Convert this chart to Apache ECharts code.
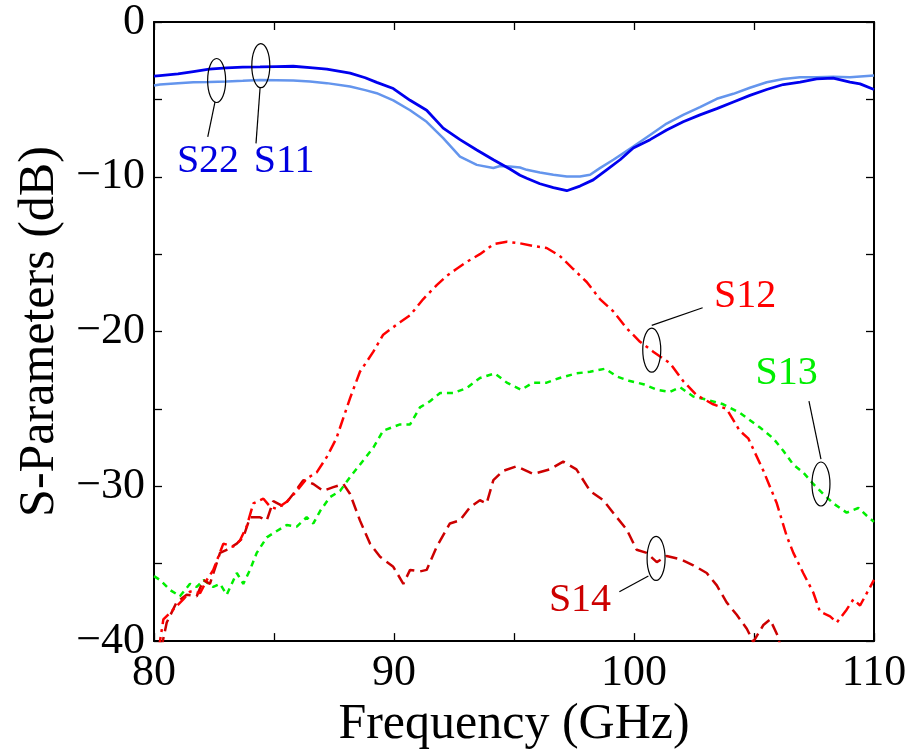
<!DOCTYPE html>
<html>
<head>
<meta charset="utf-8">
<script src="https://cdn.jsdelivr.net/npm/echarts@6/dist/echarts.min.js"></script>
<style>
  html, body { margin: 0; padding: 0; background: #fff; }
  #main { width: 916px; height: 755px; }
</style>
</head>
<body>
<div id="main"></div>
<script>
// frequency (GHz) / dB pairs
var s11 = [[80.0,-3.5],[80.25,-3.46],[81.0,-3.35],[81.64,-3.2],[82.3,-3.05],[83.03,-2.97],[83.7,-2.92],[84.42,-2.9],[85.1,-2.88],[85.8,-2.86],[86.5,-2.95],[87.2,-3.05],[88.17,-3.3],[88.8,-3.6],[89.28,-3.9],[89.97,-4.3],[90.67,-5.06],[91.36,-5.7],[92.05,-6.86],[92.75,-7.6],[93.45,-8.27],[94.14,-8.9],[94.83,-9.5],[95.25,-9.9],[95.53,-10.1],[96.08,-10.45],[96.64,-10.7],[97.2,-10.9],[97.75,-10.6],[98.3,-10.2],[98.86,-9.55],[99.42,-8.9],[99.97,-8.14],[100.67,-7.6],[101.36,-6.98],[102.05,-6.45],[102.75,-6.0],[103.45,-5.6],[104.14,-5.17],[104.83,-4.74],[105.53,-4.36],[106.22,-4.04],[106.92,-3.89],[107.61,-3.68],[108.3,-3.63],[109.0,-3.89],[109.42,-4.0],[110.0,-4.36]];
var s22 = [[80.0,-4.1],[80.25,-4.04],[81.0,-3.95],[81.64,-3.9],[82.3,-3.88],[83.03,-3.85],[83.7,-3.8],[84.42,-3.74],[85.1,-3.76],[85.8,-3.78],[86.5,-3.85],[87.2,-3.95],[88.17,-4.17],[88.8,-4.4],[89.28,-4.6],[89.97,-5.06],[90.67,-5.7],[91.36,-6.45],[92.05,-7.5],[92.75,-8.7],[93.45,-9.23],[94.14,-9.43],[94.42,-9.3],[94.83,-9.34],[95.25,-9.4],[95.53,-9.55],[96.08,-9.72],[96.64,-9.87],[97.2,-9.98],[97.75,-9.98],[98.17,-9.87],[98.58,-9.44],[99.14,-8.9],[99.97,-8.05],[100.67,-7.3],[101.36,-6.56],[102.05,-6.0],[102.75,-5.5],[103.45,-4.96],[104.14,-4.64],[104.83,-4.25],[105.53,-3.89],[106.22,-3.68],[106.92,-3.57],[107.61,-3.57],[108.3,-3.53],[109.0,-3.57],[110.0,-3.46]];
var s12 = [[80.2,-40.5],[80.39,-38.6],[80.8,-37.97],[81.22,-37.3],[81.5,-36.8],[81.92,-36.9],[82.2,-36.05],[82.47,-35.4],[82.89,-33.7],[83.3,-33.9],[83.58,-33.5],[83.86,-32.6],[84.14,-31.1],[84.56,-30.8],[84.83,-31.3],[85.1,-31.45],[85.53,-31.0],[85.95,-30.3],[86.36,-29.5],[86.78,-29.1],[87.2,-28.1],[87.6,-26.9],[88.17,-24.3],[88.58,-22.6],[89.14,-21.3],[89.55,-20.2],[90.25,-19.4],[90.67,-18.95],[91.22,-17.9],[91.78,-17.0],[92.2,-16.4],[92.6,-15.96],[93.03,-15.5],[93.58,-15.0],[94.14,-14.36],[94.7,-14.2],[95.25,-14.3],[95.8,-14.47],[96.36,-14.6],[96.9,-15.1],[97.47,-15.96],[98.03,-16.8],[98.58,-17.9],[99.14,-18.7],[99.7,-19.8],[100.25,-20.66],[100.8,-21.3],[101.5,-22.05],[102.05,-23.2],[102.6,-24.1],[103.3,-24.7],[103.86,-25.0],[104.4,-26.4],[104.76,-26.9],[105.39,-28.99],[105.95,-31.1],[106.36,-33.2],[106.64,-34.3],[107.05,-35.6],[107.47,-36.86],[107.75,-38.1],[108.17,-38.4],[108.45,-38.8],[108.86,-37.97],[109.14,-37.3],[109.42,-37.7],[109.7,-36.9],[110.0,-36.05]];
var s13 = [[80.0,-35.8],[80.25,-36.05],[80.67,-36.7],[81.08,-37.1],[81.5,-36.3],[81.78,-36.5],[82.06,-36.05],[82.47,-36.5],[82.75,-36.3],[83.03,-37.0],[83.45,-35.6],[83.72,-36.3],[84.0,-35.4],[84.28,-34.3],[84.7,-33.3],[85.1,-32.9],[85.53,-32.5],[85.95,-32.6],[86.36,-32.0],[86.64,-32.4],[86.92,-31.6],[87.33,-30.7],[87.75,-30.3],[88.17,-29.4],[88.58,-28.6],[89.14,-27.5],[89.55,-26.4],[90.25,-26.0],[90.67,-26.0],[91.08,-24.9],[91.5,-24.5],[91.92,-23.97],[92.47,-23.97],[93.03,-23.65],[93.58,-23.0],[94.2,-22.7],[94.7,-23.3],[95.3,-23.76],[95.8,-23.3],[96.36,-23.3],[96.9,-23.0],[97.6,-22.7],[98.17,-22.6],[98.8,-22.4],[99.28,-22.9],[99.83,-23.2],[100.39,-23.4],[100.95,-23.76],[101.5,-23.9],[101.92,-23.6],[102.47,-24.2],[103.03,-24.4],[103.72,-24.7],[104.42,-25.26],[105.25,-26.2],[105.8,-26.9],[106.22,-27.7],[106.64,-28.6],[107.05,-29.1],[107.47,-29.85],[107.89,-30.5],[108.3,-31.1],[108.86,-31.7],[109.35,-31.4],[109.7,-31.9],[110.0,-32.3]];
var s14 = [[80.3,-40.5],[80.53,-38.8],[80.94,-37.5],[81.36,-37.0],[81.78,-37.1],[82.06,-36.05],[82.33,-36.3],[82.75,-34.3],[83.03,-34.1],[83.45,-33.7],[83.72,-33.3],[84.0,-32.0],[84.42,-32.0],[84.7,-32.2],[84.97,-30.95],[85.39,-31.3],[85.8,-30.5],[86.22,-29.6],[86.64,-29.85],[87.05,-30.3],[87.47,-30.05],[87.89,-29.85],[88.17,-30.5],[88.58,-32.2],[89.0,-33.7],[89.42,-34.55],[89.97,-35.2],[90.39,-36.3],[90.67,-35.4],[91.08,-35.5],[91.36,-35.4],[91.78,-33.9],[92.33,-32.4],[92.75,-32.2],[93.17,-31.35],[93.58,-30.9],[93.86,-31.1],[94.14,-29.6],[94.55,-29.0],[95.11,-28.7],[95.8,-29.2],[96.5,-28.9],[97.05,-28.4],[97.6,-28.9],[98.17,-30.3],[98.72,-30.9],[99.28,-32.0],[99.7,-32.8],[100.11,-34.1],[100.53,-34.3],[100.95,-34.9],[101.36,-34.5],[101.92,-34.7],[102.47,-35.1],[103.03,-35.6],[103.45,-36.4],[103.86,-37.5],[104.28,-38.3],[104.7,-39.2],[104.97,-40.05],[105.39,-38.96],[105.67,-38.6],[106.0,-39.7],[106.2,-41]];

// callouts: ellipse centre, leader line ends and label centre, all in data units
var notes = [
  {label:"S22", color:"#0000e0", at:[82.61,-3.78], from:[82.54,-5.17], to:[82.24,-7.42], text:[82.25,-9.04]},
  {label:"S11", color:"#0000e0", at:[84.45,-2.82], from:[84.42,-4.25], to:[84.25,-7.84], text:[85.42,-9.04]},
  {label:"S12", color:"#ff0000", at:[100.74,-21.2], from:[100.74,-19.6], to:[102.86,-18.46], text:[104.63,-17.76]},
  {label:"S13", color:"#00ee00", at:[107.79,-29.85], from:[107.79,-28.25], to:[107.29,-24.5], text:[106.36,-22.7]},
  {label:"S14", color:"#cc0000", at:[100.92,-34.66], from:[100.6,-35.79], to:[99.39,-36.81], text:[97.75,-37.37]}
];

var FONT = "Liberation Serif";
function minusLabel(v) { return v < 0 ? "\u2212" + (-v) : String(v); }

var myChart = echarts.init(document.getElementById("main"));

function boxAxis(pos, extra) {
  var a = {
    type: "value",
    position: pos,
    axisLine: {show: true, onZero: false, lineStyle: {color: "#000", width: 2}},
    axisTick: {show: true, inside: true, length: 8, lineStyle: {color: "#000", width: 1.3}},
    splitLine: {show: false},
    axisLabel: {show: false}
  };
  return Object.assign(a, extra);
}

function renderNote(params, api) {
  var n = notes[params.dataIndex];
  var c = api.coord(n.at), a = api.coord(n.from), b = api.coord(n.to), t = api.coord(n.text);
  return {
    type: "group",
    children: [
      {type: "ellipse", shape: {cx: c[0], cy: c[1], rx: 9, ry: 22},
       style: {fill: "none", stroke: "#000", lineWidth: 1.2}},
      {type: "line", shape: {x1: a[0], y1: a[1], x2: b[0], y2: b[1]},
       style: {stroke: "#000", lineWidth: 1.2}},
      {type: "text", x: t[0], y: t[1],
       style: {text: n.label, fill: n.color, fontFamily: FONT, fontSize: 40, align: "center", verticalAlign: "middle"}}
    ]
  };
}

myChart.setOption({
  animation: false,
  grid: {left: 154, right: 42, top: 21, bottom: 109},
  xAxis: [
    boxAxis("bottom", {
      min: 80, max: 110, interval: 5,
      axisLabel: {
        show: true, margin: 10, color: "#000", fontFamily: FONT, fontSize: 44,
        formatter: function (v) { return v % 10 === 0 ? String(v) : ""; }
      },
      name: "Frequency (GHz)", nameLocation: "middle", nameGap: 38,
      nameTextStyle: {color: "#000", fontFamily: FONT, fontSize: 50}
    }),
    boxAxis("top", {min: 80, max: 110, interval: 5})
  ],
  yAxis: [
    boxAxis("left", {
      min: -40, max: 0, interval: 5,
      axisLabel: {
        show: true, margin: 9, color: "#000", fontFamily: FONT, fontSize: 44,
        formatter: function (v) { return v % 10 === 0 ? minusLabel(v) : ""; }
      },
      name: "S-Parameters (dB)", nameLocation: "middle", nameGap: 84,
      nameTextStyle: {color: "#000", fontFamily: FONT, fontSize: 50}
    }),
    boxAxis("right", {min: -40, max: 0, interval: 5})
  ],
  series: [
    {name: "S22", type: "line", data: s22, showSymbol: false, symbol: "none",
     lineStyle: {color: "#6495ed", width: 2.5}},
    {name: "S11", type: "line", data: s11, showSymbol: false, symbol: "none",
     lineStyle: {color: "#0000ee", width: 2.8}},
    {name: "S13", type: "line", data: s13, showSymbol: false, symbol: "none",
     lineStyle: {color: "#00ee00", width: 2.5, type: [6, 5]}},
    {name: "S14", type: "line", data: s14, showSymbol: false, symbol: "none",
     lineStyle: {color: "#cc0000", width: 2.5, type: [12, 6]}},
    {name: "S12", type: "line", data: s12, showSymbol: false, symbol: "none",
     lineStyle: {color: "#ff0000", width: 2.5, type: [12, 5, 3, 5]}},
    {name: "callouts", type: "custom", clip: false, z: 10,
     data: notes.map(function (n) { return n.at; }),
     renderItem: renderNote}
  ]
});
</script>
</body>
</html>
